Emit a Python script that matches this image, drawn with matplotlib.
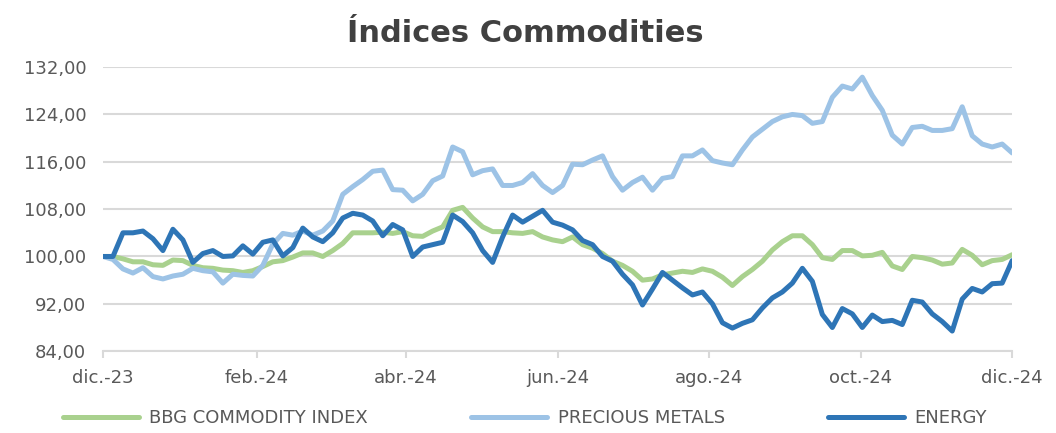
import matplotlib
matplotlib.use("Agg")
import matplotlib.pyplot as plt
import matplotlib.ticker as mticker
import pandas as pd

# Index levels (base 100), sampled roughly every 4 days from dic.-23 to dic.-24
bbg = [
    100.0, 100.0, 99.6, 99.1, 99.1, 98.6, 98.5, 99.4, 99.3, 98.5,
    98.1, 98.0, 97.7, 97.6, 97.3, 97.6, 98.3, 99.1, 99.3, 99.9,
    100.6, 100.6, 100.0, 101.0, 102.2, 104.0, 104.0, 104.0, 104.1, 103.9,
    104.2, 103.5, 103.4, 104.3, 105.0, 107.8, 108.3, 106.5, 105.0, 104.2,
    104.2, 104.0, 103.9, 104.2, 103.3, 102.8, 102.5, 103.3, 102.0, 101.4,
    100.5, 99.2, 98.5, 97.5, 96.0, 96.2, 96.9, 97.2, 97.5, 97.3,
    97.9, 97.5, 96.5, 95.1, 96.6, 97.8, 99.2, 101.1, 102.5, 103.5,
    103.5, 102.0, 99.8, 99.5, 101.0, 101.0, 100.1, 100.2, 100.7, 98.4,
    97.8, 100.0, 99.8, 99.4, 98.7, 98.9, 101.2, 100.2, 98.6, 99.3,
    99.5, 100.3,
]
precious = [
    100.0, 99.5, 97.9, 97.2, 98.1, 96.6, 96.2, 96.7, 97.0, 98.0,
    97.6, 97.4, 95.5, 97.0, 96.8, 96.7, 98.5, 102.1, 103.9, 103.6,
    104.3, 103.6, 104.3, 106.0, 110.5, 111.8, 113.0, 114.4, 114.6, 111.3,
    111.2, 109.4, 110.5, 112.8, 113.6, 118.5, 117.7, 113.8, 114.5, 114.8,
    112.0, 112.0, 112.5, 114.0, 112.0, 110.8, 112.0, 115.6, 115.5, 116.3,
    117.0, 113.5, 111.2, 112.5, 113.4, 111.2, 113.2, 113.5, 117.0, 117.0,
    118.0, 116.2, 115.8, 115.5, 118.0, 120.2, 121.5, 122.8, 123.6, 124.0,
    123.8, 122.5, 122.8, 126.9, 128.8, 128.3, 130.3, 127.2, 124.7, 120.5,
    119.0, 121.8, 122.0, 121.3, 121.3, 121.6, 125.3, 120.4, 119.0, 118.5,
    119.0, 117.5,
]
energy = [
    100.0, 100.0, 104.0, 104.0, 104.3, 103.0, 101.0, 104.6, 102.8, 99.0,
    100.5, 101.0, 100.0, 100.1, 101.8, 100.4, 102.4, 102.8, 100.1, 101.5,
    104.8, 103.3, 102.5, 104.0, 106.5, 107.3, 107.0, 106.0, 103.5, 105.4,
    104.5, 100.0, 101.6, 102.0, 102.4, 107.0, 105.9, 104.0, 101.0, 99.0,
    103.3, 107.0, 105.8, 106.8, 107.8, 105.8, 105.3, 104.5, 102.7, 102.0,
    100.0, 99.2, 97.0, 95.2, 91.8, 94.5, 97.3, 96.0, 94.7, 93.5,
    94.0, 92.0, 88.8, 87.9, 88.7, 89.3, 91.3, 93.0, 94.0, 95.5,
    98.0, 95.8, 90.2, 88.0, 91.2, 90.3, 88.0, 90.1, 89.0, 89.2,
    88.5, 92.6, 92.3, 90.3, 89.0, 87.4, 92.8, 94.6, 94.0, 95.4,
    95.5, 99.3,
]
dates = pd.date_range("2023-12-01", "2024-12-01", periods=len(bbg))

series = [
    ("BBG COMMODITY INDEX", bbg, "#a9d18e"),
    ("PRECIOUS METALS", precious, "#9dc3e6"),
    ("ENERGY", energy, "#2e75b6"),
]

months_es = ["ene", "feb", "mar", "abr", "may", "jun",
             "jul", "ago", "sep", "oct", "nov", "dic"]

fig = plt.figure(figsize=(10.56, 4.33), dpi=100)
ax = fig.add_axes([0.0975, 0.189, 0.861, 0.656])

for label, values, color in series:
    ax.plot(dates, values, color=color, linewidth=3.6, label=label,
            solid_joinstyle="round", solid_capstyle="round")

ax.set_ylim(84, 132)
ax.set_yticks(range(84, 133, 8))
ax.yaxis.set_major_formatter(
    mticker.FuncFormatter(lambda v, _: f"{v:.2f}".replace(".", ",")))
ax.set_xlim(pd.Timestamp("2023-12-01"), pd.Timestamp("2024-12-01"))
xticks = pd.date_range("2023-12-01", "2024-12-01", freq="2MS")
ax.set_xticks(xticks)
ax.set_xticklabels([f"{months_es[d.month - 1]}.-{d.strftime('%y')}" for d in xticks])

ax.grid(axis="y", color="#d9d9d9", linewidth=1.5)
ax.set_axisbelow(True)
for side in ["top", "right", "left"]:
    ax.spines[side].set_visible(False)
ax.spines["bottom"].set_color("#d9d9d9")
ax.spines["bottom"].set_linewidth(1.5)
ax.tick_params(axis="y", length=0, labelsize=13, labelcolor="#595959", pad=12)
ax.tick_params(axis="x", length=5, color="#d9d9d9", width=1.5,
               labelsize=13, labelcolor="#595959", pad=8)

fig.suptitle("Índices Commodities", x=0.497, y=0.955, fontsize=22,
             fontweight="bold", color="#404040")
fig.legend(loc="center", bbox_to_anchor=(0.497, 0.035), ncol=3, frameon=False,
           fontsize=13, handlelength=4.2, handletextpad=0.6, columnspacing=5.7,
           labelcolor="#595959")

fig.savefig("out.png", dpi=100)
